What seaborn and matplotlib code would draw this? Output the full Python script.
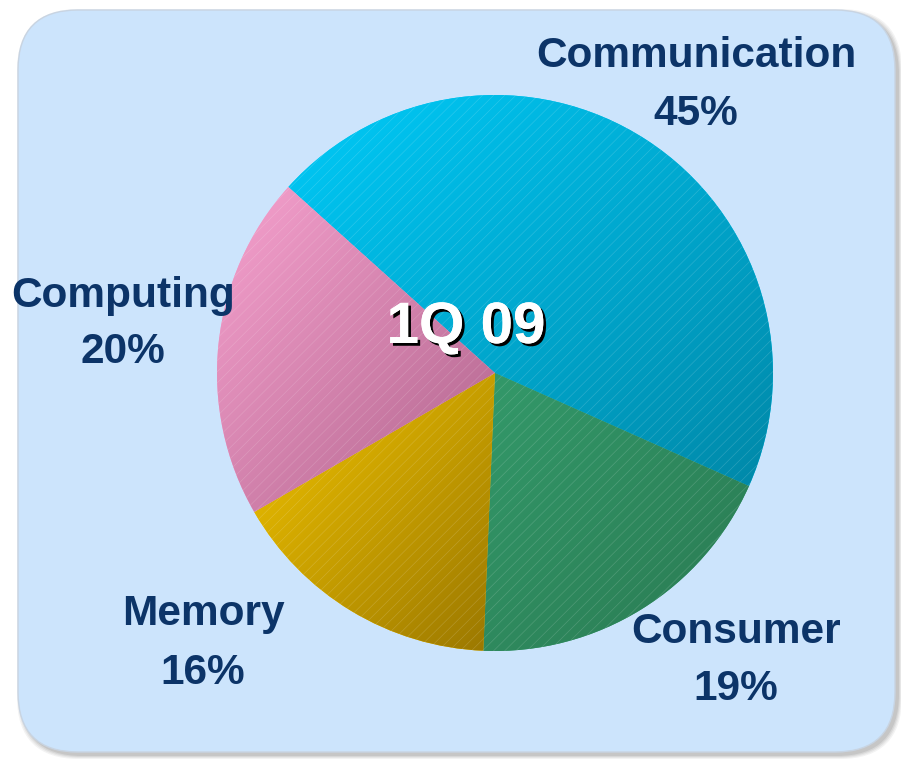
import numpy as np
import seaborn as sns
import matplotlib.pyplot as plt
import matplotlib.patheffects as pe
from matplotlib.patches import FancyBboxPatch, Wedge
from matplotlib.colors import to_rgb

# data
segments = ["Communication", "Consumer", "Memory", "Computing"]
shares = [45, 19, 16, 20]
title = "1Q 09"

# (light, dark) colour pair for every slice
light_cols = ["#00cbf9", "#33996a", "#f4c600", "#f7a2cf"]
dark_cols = ["#0088a8", "#2a7a52", "#9a7700", "#b0648c"]

# label spots in picture pixels (x centre, name baseline, pct baseline)
label_spots = [(696, 67, 125), (736, 643, 700), (203, 625, 684), (123, 307, 363)]

W, H = 901, 759
sns.set_theme(style="white")
plt.rcParams["font.family"] = ["Liberation Sans", "DejaVu Sans"]
plt.rcParams["hatch.linewidth"] = 0.5

fig = plt.figure(figsize=(W / 100, H / 100), dpi=100)
fig.patch.set_facecolor("white")
ax = fig.add_axes([0, 0, 1, 1])
ax.set_axis_off()

# panel with soft shadow
for i, a in enumerate([0.10, 0.12, 0.16, 0.22]):
    grow = 4 - i
    ax.add_patch(FancyBboxPatch((18 - grow + 3, 7 - grow - 3), 877 + 2 * grow, 742 + 2 * grow,
                                boxstyle="round,pad=0,rounding_size=62",
                                fc="#8a8a8a", ec="none", alpha=a, zorder=0))
ax.add_patch(FancyBboxPatch((18, 7), 877, 742, boxstyle="round,pad=0,rounding_size=60",
                            fc="#cce4fc", ec="#c8d4e2", lw=1.0, zorder=1))

cx, cy, r = 495, H - 373, 278
wedges, _ = ax.pie(shares, startangle=138, counterclock=False, center=(cx, cy), radius=r,
                   colors=light_cols, wedgeprops=dict(linewidth=0), frame=True)
for w in wedges:
    w.set_zorder(2)

# diagonal shading inside each slice: light top-left, dark bottom-right
n = 200
gx, gy = np.meshgrid(np.linspace(0, 1, n), np.linspace(0, 1, n))
t = np.clip((gx + (1 - gy)) / 2, 0, 1)[..., None]
for w, lc, dc in zip(wedges, light_cols, dark_cols):
    bb = w.get_path().get_extents()
    img = np.array(to_rgb(lc)) * (1 - t) + np.array(to_rgb(dc)) * t
    im = ax.imshow(img, extent=[bb.x0, bb.x1, bb.y0, bb.y1], origin="lower",
                   zorder=3, interpolation="bilinear")
    im.set_clip_path(w)

# fine stripes
for w in wedges:
    ax.add_patch(Wedge((cx, cy), r, w.theta1, w.theta2, fc="none",
                       ec=(1, 1, 1, 0.16), lw=0, hatch="///", zorder=4))

ax.set_xlim(0, W)
ax.set_ylim(0, H)
ax.set_aspect("auto")

navy = "#0c3468"
for name, pct, (x, yb1, yb2) in zip(segments, shares, label_spots):
    ax.text(x, H - yb1, name, ha="center", va="baseline", fontsize=30.5,
            fontweight="bold", color=navy, zorder=6)
    ax.text(x, H - yb2, f"{pct}%", ha="center", va="baseline", fontsize=30.5,
            fontweight="bold", color=navy, zorder=6)

ax.text(466, H - 343, title, ha="center", va="baseline", fontsize=42, fontweight="bold",
        color="white", zorder=7,
        path_effects=[pe.withSimplePatchShadow(offset=(2, -2), shadow_rgbFace="black", alpha=1.0),
                      pe.Normal()])

fig.savefig("out.png", dpi=100, facecolor="white")
